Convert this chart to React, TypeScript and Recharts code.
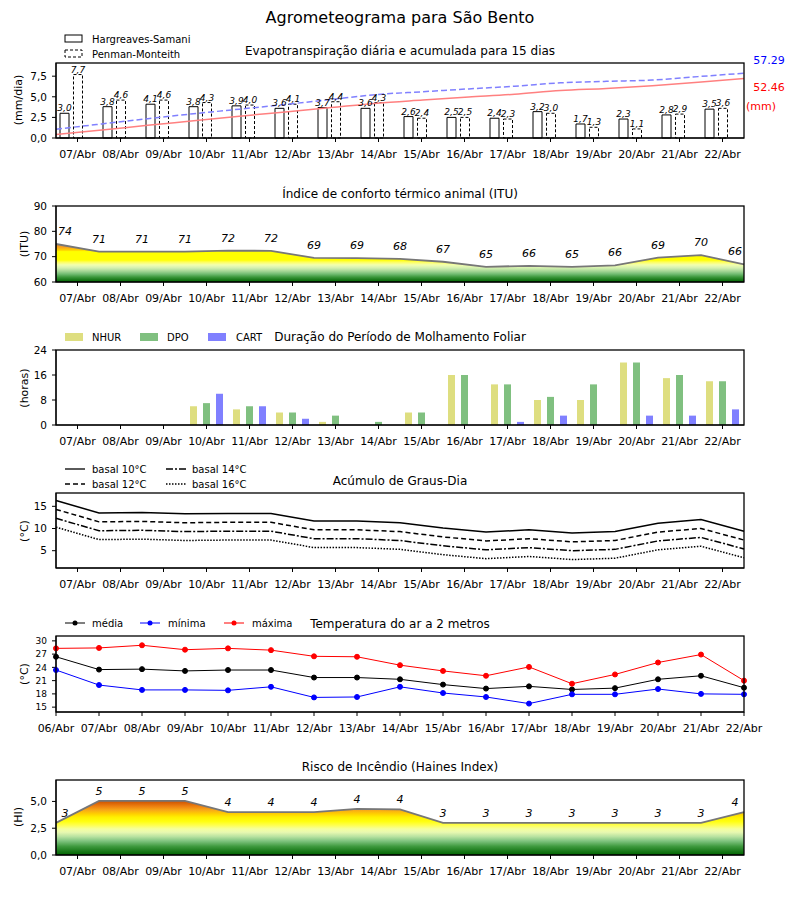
import React from 'react';
import { ComposedChart, Bar, Line, Area, XAxis, YAxis, LabelList } from 'recharts';

const dates16 = ['07/Abr', '08/Abr', '09/Abr', '10/Abr', '11/Abr', '12/Abr', '13/Abr', '14/Abr', '15/Abr', '16/Abr', '17/Abr', '18/Abr', '19/Abr', '20/Abr', '21/Abr', '22/Abr'];
const dates17 = ['06/Abr', ...dates16];

// Panel 1: evapotranspiração
const etHS = [3.0, 3.8, 4.1, 3.8, 3.9, 3.6, 3.7, 3.6, 2.6, 2.5, 2.4, 3.2, 1.7, 2.3, 2.8, 3.5];
const etPM = [7.7, 4.6, 4.6, 4.3, 4.0, 4.1, 4.4, 4.3, 2.4, 2.5, 2.3, 3.0, 1.3, 1.1, 2.9, 3.6];
const accPM = [7.7, 12.3, 16.9, 21.2, 25.2, 29.3, 33.7, 38.0, 40.4, 42.9, 45.2, 48.2, 49.5, 50.6, 53.6, 56.6];
const accHS = [3.0, 6.9, 11.1, 15.0, 19.0, 22.8, 26.6, 30.4, 33.1, 35.7, 38.2, 41.5, 43.3, 45.7, 48.7, 52.0];

// Panel 2: ITU
const ituLine = [75.0, 72.0, 72.0, 72.0, 72.4, 72.3, 69.5, 69.4, 69.1, 68.0, 66.0, 66.4, 66.0, 66.6, 69.6, 70.6, 67.0];
const ituLabel = [74, 71, 71, 71, 72, 72, 69, 69, 68, 67, 65, 66, 65, 66, 69, 70, 66];

// Panel 3: molhamento foliar
const nhur = [0, 0, 0, 6, 5, 4, 1, 0, 4, 16, 13, 8, 8, 20, 15, 14];
const dpo = [0, 0, 0, 7, 6, 4, 3, 1, 4, 16, 13, 9, 13, 20, 16, 14];
const cart = [0, 0, 0, 10, 6, 2, 0, 0, 0, 0, 1, 3, 0, 3, 3, 5];

// Panel 4: graus-dia
const gd10 = [16.3, 13.5, 13.6, 13.3, 13.4, 13.4, 11.7, 11.7, 11.3, 10.1, 9.2, 9.7, 9.0, 9.3, 11.2, 12.0, 9.4];
const gd12 = [14.3, 11.5, 11.6, 11.3, 11.4, 11.4, 9.7, 9.7, 9.3, 8.1, 7.2, 7.7, 7.0, 7.3, 9.2, 10.0, 7.4];
const gd14 = [12.3, 9.5, 9.6, 9.3, 9.4, 9.4, 7.7, 7.7, 7.3, 6.1, 5.2, 5.7, 5.0, 5.3, 7.2, 8.0, 5.4];
const gd16 = [10.3, 7.5, 7.6, 7.3, 7.4, 7.4, 5.7, 5.7, 5.3, 4.1, 3.2, 3.7, 3.0, 3.3, 5.2, 6.0, 3.4];

// Panel 5: temperatura
const tMed = [26.4, 23.5, 23.6, 23.2, 23.4, 23.4, 21.7, 21.7, 21.3, 20.1, 19.2, 19.7, 19.0, 19.3, 21.3, 22.1, 19.4];
const tMin = [23.4, 20.0, 18.9, 18.9, 18.8, 19.6, 17.2, 17.3, 19.6, 18.2, 17.3, 15.8, 17.9, 17.9, 19.1, 18.0, 17.9];
const tMax = [28.3, 28.4, 29.0, 28.0, 28.3, 27.9, 26.5, 26.4, 24.5, 23.2, 22.1, 24.1, 20.3, 22.4, 25.1, 26.9, 21.0];

// Panel 6: Haines
const hainesLine = [3.0, 5.05, 5.05, 5.05, 4.0, 4.0, 4.0, 4.3, 4.25, 3.0, 3.0, 3.0, 3.0, 3.0, 3.0, 3.0, 4.0];
const hainesLabel = [3, 5, 5, 5, 4, 4, 4, 4, 4, 3, 3, 3, 3, 3, 3, 3, 4];

const etData = dates16.map((d, i) => ({ d, i, hs: etHS[i], pm: etPM[i], z: 0, accPM: accPM[i], accHS: accHS[i] }));
const ituData = dates17.map((_, i) => ({ i, v: ituLine[i], lbl: ituLabel[i] }));
const molData = dates16.map((d, i) => ({ d, nhur: nhur[i], dpo: dpo[i], cart: cart[i] }));
const gdData = dates17.map((_, i) => ({ i, b10: gd10[i], b12: gd12[i], b14: gd14[i], b16: gd16[i] }));
const tData = dates17.map((_, i) => ({ i, med: tMed[i], min: tMin[i], max: tMax[i] }));
const hData = dates17.map((_, i) => ({ i, v: hainesLine[i], lbl: hainesLabel[i] }));

const midTicks = dates16.map((_, k) => k + 0.5);
const edgeTicks = dates17.map((_, k) => k);
const midFmt = (v: number) => dates16[Math.round(v - 0.5)] ?? '';
const edgeFmt = (v: number) => dates17[Math.round(v)] ?? '';
const comma1 = (v: any) => Number(v).toFixed(1).replace('.', ',');

const FONT = '"DejaVu Sans", sans-serif';
const W = 800;
const PANELS = [
  { top: 63, bot: 138 },
  { top: 206, bot: 282 },
  { top: 350, bot: 425 },
  { top: 493, bot: 568 },
  { top: 636, bot: 712 },
  { top: 780, bot: 855 },
];
const MARGIN = { top: 10, right: 56, bottom: 0, left: 0 };
const xTick = { fontSize: 11, fill: '#000', fontFamily: FONT };
const yTick = { fontSize: 10.5, fill: '#000', fontFamily: FONT };

function Box({ idx, children }: { idx: number; children: (h: number) => React.ReactNode }) {
  const p = PANELS[idx];
  const h = p.bot - p.top + 40;
  return (
    <div style={{ position: 'absolute', left: 0, top: p.top - 10, width: W, height: h }}>{children(h)}</div>
  );
}

const pointLabel = (labels: number[], off: number) => (props: any) => {
  const x = props.x ?? props.viewBox?.x;
  const y = props.y ?? props.viewBox?.y;
  const index = props.index;
  if (x == null || y == null) return null;
  const n = labels.length;
  const dx = index === 0 ? 9 : index === n - 1 ? -9 : 0;
  return (
    <text x={x + dx} y={y - off} textAnchor="middle" fontSize={11} fontStyle="italic" fill="#000" fontFamily={FONT}>
      {labels[index]}
    </text>
  );
};

function HeatGradients() {
  return (
    <defs>
      <linearGradient id="ituGrad" x1="0" y1="1" x2="0" y2="0">
        <stop offset="0" stopColor="#006400" />
        <stop offset="0.06" stopColor="#1a7a1a" />
        <stop offset="0.13" stopColor="#3c983c" />
        <stop offset="0.21" stopColor="#72bc72" />
        <stop offset="0.29" stopColor="#a8d898" />
        <stop offset="0.37" stopColor="#d4f0b0" />
        <stop offset="0.45" stopColor="#f2ffb0" />
        <stop offset="0.52" stopColor="#ffff60" />
        <stop offset="0.58" stopColor="#ffff00" />
        <stop offset="0.80" stopColor="#ffff00" />
        <stop offset="0.84" stopColor="#ffd000" />
        <stop offset="0.92" stopColor="#f5a020" />
        <stop offset="1" stopColor="#ee8a20" />
      </linearGradient>
      <linearGradient id="hainesGrad" x1="0" y1="1" x2="0" y2="0">
        <stop offset="0" stopColor="#006400" />
        <stop offset="0.08" stopColor="#1e7d1e" />
        <stop offset="0.16" stopColor="#3f9a3f" />
        <stop offset="0.26" stopColor="#80c480" />
        <stop offset="0.34" stopColor="#b8e2a0" />
        <stop offset="0.42" stopColor="#e8f8b0" />
        <stop offset="0.48" stopColor="#f4ffa0" />
        <stop offset="0.55" stopColor="#ffff50" />
        <stop offset="0.62" stopColor="#ffff10" />
        <stop offset="0.70" stopColor="#fff000" />
        <stop offset="0.76" stopColor="#ffd000" />
        <stop offset="0.83" stopColor="#f8a818" />
        <stop offset="0.90" stopColor="#ee8010" />
        <stop offset="1" stopColor="#cc5000" />
      </linearGradient>
    </defs>
  );
}

function T({ x, y, children, size = 12, anchor = 'middle', color = '#000', rotate = false, style }: any) {
  return (
    <text
      x={x}
      y={y}
      fontSize={size}
      textAnchor={anchor}
      dominantBaseline="central"
      fill={color}
      fontFamily={FONT}
      transform={rotate ? `rotate(-90 ${x} ${y})` : undefined}
      style={style}
    >
      {children}
    </text>
  );
}

function Overlay() {
  return (
    <svg width={W} height={900} style={{ position: 'absolute', left: 0, top: 0, pointerEvents: 'none' }}>
      {PANELS.map((p, k) => (
        <rect key={k} x={56} y={p.top} width={688} height={p.bot - p.top} fill="none" stroke="#000" strokeWidth={1.3} />
      ))}
      <T x={400} y={17} size={16}>Agrometeograma para São Bento</T>

      {/* panel 1 */}
      <rect x={65} y={35} width={17} height={7} fill="#fff" stroke="#000" strokeWidth={1} />
      <T x={92} y={39} size={10} anchor="start">Hargreaves-Samani</T>
      <rect x={65} y={50} width={17} height={7} fill="#fff" stroke="#000" strokeWidth={1} strokeDasharray="3 2" />
      <T x={92} y={54} size={10} anchor="start">Penman-Monteith</T>
      <T x={400} y={51}>Evapotranspiração diária e acumulada para 15 dias</T>
      <T x={18} y={100} size={11} rotate>(mm/dia)</T>
      <T x={769} y={60} size={11} color="#0000ff">57.29</T>
      <T x={769} y={87} size={11} color="#ff0000">52.46</T>
      <T x={761} y={106} size={11} color="#ff0000">(mm)</T>

      {/* panel 2 */}
      <T x={400} y={194}>Índice de conforto térmico animal (ITU)</T>
      <T x={24} y={244} size={11} rotate>(ITU)</T>

      {/* panel 3 */}
      <rect x={65} y={333} width={18} height={8} fill="#dede80" />
      <T x={92} y={337} size={10} anchor="start">NHUR</T>
      <rect x={140} y={333} width={18} height={8} fill="#80c080" />
      <T x={167} y={337} size={10} anchor="start">DPO</T>
      <rect x={208} y={333} width={18} height={8} fill="#8080ff" />
      <T x={236} y={337} size={10} anchor="start">CART</T>
      <T x={400} y={337}>Duração do Período de Molhamento Foliar</T>
      <T x={24} y={388} size={11} rotate>(horas)</T>

      {/* panel 4 */}
      <line x1={65} y1={469} x2={85} y2={469} stroke="#000" strokeWidth={1.3} />
      <T x={92} y={469} size={10} anchor="start">basal 10°C</T>
      <line x1={65} y1={484} x2={85} y2={484} stroke="#000" strokeWidth={1.3} strokeDasharray="5 3" />
      <T x={92} y={484} size={10} anchor="start">basal 12°C</T>
      <line x1={166} y1={469} x2={186} y2={469} stroke="#000" strokeWidth={1.3} strokeDasharray="7 2 2 2" />
      <T x={192} y={469} size={10} anchor="start">basal 14°C</T>
      <line x1={166} y1={484} x2={186} y2={484} stroke="#000" strokeWidth={1.3} strokeDasharray="1.5 1.5" />
      <T x={192} y={484} size={10} anchor="start">basal 16°C</T>
      <T x={400} y={481}>Acúmulo de Graus-Dia</T>
      <T x={24} y={531} size={11} rotate>(°C)</T>

      {/* panel 5 */}
      <line x1={65} y1={623} x2={85} y2={623} stroke="#000" strokeWidth={1} />
      <circle cx={75} cy={623} r={2.5} fill="#000" />
      <T x={92} y={623} size={10} anchor="start">média</T>
      <line x1={140} y1={623} x2={160} y2={623} stroke="#0000ff" strokeWidth={1} />
      <circle cx={150} cy={623} r={2.5} fill="#0000ff" />
      <T x={168} y={623} size={10} anchor="start">mínima</T>
      <line x1={224} y1={623} x2={244} y2={623} stroke="#ff0000" strokeWidth={1} />
      <circle cx={234} cy={623} r={2.5} fill="#ff0000" />
      <T x={252} y={623} size={10} anchor="start">máxima</T>
      <T x={400} y={624}>Temperatura do ar a 2 metros</T>
      <T x={24} y={674} size={11} rotate>(°C)</T>

      {/* panel 6 */}
      <T x={400} y={767}>Risco de Incêndio (Haines Index)</T>
      <T x={18} y={817} size={11} rotate>(HI)</T>
    </svg>
  );
}

export default function App() {
  return (
    <div style={{ position: 'absolute', left: 0, top: 0, width: W, height: 900, background: '#fff', fontFamily: FONT }}>
      {/* Panel 1 */}
      <Box idx={0}>
        {(h) => (
          <ComposedChart width={W} height={h} data={etData} margin={MARGIN} barGap={4.5}>
            <XAxis xAxisId="cat" dataKey="d" type="category" interval={0} height={30} tickSize={4} tickMargin={8} tick={xTick} stroke="#000" />
            <XAxis xAxisId="num" dataKey="i" type="number" domain={[0, 15]} hide />
            <YAxis yAxisId="left" domain={[0, 9.1]} ticks={[0, 2.5, 5, 7.5]} interval={0} tickFormatter={comma1} width={56} tickSize={4} tickMargin={5} tick={yTick} stroke="#000" />
            <YAxis yAxisId="right" orientation="right" domain={[0, 65.5]} hide />
            <Bar xAxisId="cat" yAxisId="left" dataKey="hs" barSize={9} fill="#fff" stroke="#000" strokeWidth={1} isAnimationActive={false}>
              <LabelList dataKey="hs" position="top" offset={2} formatter={comma1} style={{ fontSize: 9, fontStyle: 'italic', fill: '#000', fontFamily: FONT }} />
            </Bar>
            <Bar xAxisId="cat" yAxisId="left" dataKey="pm" barSize={9} fill="#fff" stroke="#000" strokeWidth={1} strokeDasharray="3 2" isAnimationActive={false}>
              <LabelList dataKey="pm" position="top" offset={2} formatter={comma1} style={{ fontSize: 9, fontStyle: 'italic', fill: '#000', fontFamily: FONT }} />
            </Bar>
            <Bar xAxisId="cat" yAxisId="left" dataKey="z" barSize={9} fill="none" isAnimationActive={false} />
            <Line xAxisId="num" yAxisId="right" type="monotone" dataKey="accPM" stroke="#8080ff" strokeWidth={1.5} strokeDasharray="6 3" dot={false} isAnimationActive={false} />
            <Line xAxisId="num" yAxisId="right" type="monotone" dataKey="accHS" stroke="#ff8080" strokeWidth={1.5} dot={false} isAnimationActive={false} />
          </ComposedChart>
        )}
      </Box>

      {/* Panel 2 */}
      <Box idx={1}>
        {(h) => (
          <ComposedChart width={W} height={h} data={ituData} margin={MARGIN}>
            <HeatGradients />
            <XAxis dataKey="i" type="number" domain={[0, 16]} ticks={midTicks} tickFormatter={midFmt} interval={0} height={30} tickSize={4} tickMargin={8} tick={xTick} stroke="#000" />
            <YAxis domain={[60, 90]} ticks={[60, 70, 80, 90]} interval={0} width={56} tickSize={4} tickMargin={5} tick={yTick} stroke="#000" />
            <Area type="linear" dataKey="v" baseValue={60} fill="url(#ituGrad)" fillOpacity={1} stroke="#777" strokeWidth={1.8} isAnimationActive={false}>
              <LabelList dataKey="lbl" content={pointLabel(ituLabel, 9)} />
            </Area>
          </ComposedChart>
        )}
      </Box>

      {/* Panel 3 */}
      <Box idx={2}>
        {(h) => (
          <ComposedChart width={W} height={h} data={molData} margin={MARGIN} barGap={6}>
            <XAxis dataKey="d" type="category" interval={0} height={30} tickSize={4} tickMargin={8} tick={xTick} stroke="#000" />
            <YAxis domain={[0, 24]} ticks={[0, 8, 16, 24]} interval={0} width={56} tickSize={4} tickMargin={5} tick={yTick} stroke="#000" />
            <Bar dataKey="nhur" barSize={7} fill="#dede80" isAnimationActive={false} />
            <Bar dataKey="dpo" barSize={7} fill="#80c080" isAnimationActive={false} />
            <Bar dataKey="cart" barSize={7} fill="#8080ff" isAnimationActive={false} />
          </ComposedChart>
        )}
      </Box>

      {/* Panel 4 */}
      <Box idx={3}>
        {(h) => (
          <ComposedChart width={W} height={h} data={gdData} margin={MARGIN}>
            <XAxis dataKey="i" type="number" domain={[0, 16]} ticks={midTicks} tickFormatter={midFmt} interval={0} height={30} tickSize={4} tickMargin={8} tick={xTick} stroke="#000" />
            <YAxis domain={[1.1, 18]} ticks={[5, 10, 15]} interval={0} width={56} tickSize={4} tickMargin={5} tick={yTick} stroke="#000" />
            <Line type="linear" dataKey="b10" stroke="#000" strokeWidth={1.5} dot={false} isAnimationActive={false} />
            <Line type="linear" dataKey="b12" stroke="#000" strokeWidth={1.5} strokeDasharray="5 3" dot={false} isAnimationActive={false} />
            <Line type="linear" dataKey="b14" stroke="#000" strokeWidth={1.5} strokeDasharray="7 2 2 2" dot={false} isAnimationActive={false} />
            <Line type="linear" dataKey="b16" stroke="#000" strokeWidth={1.5} strokeDasharray="1.5 1.5" dot={false} isAnimationActive={false} />
          </ComposedChart>
        )}
      </Box>

      {/* Panel 5 */}
      <Box idx={4}>
        {(h) => (
          <ComposedChart width={W} height={h} data={tData} margin={MARGIN}>
            <XAxis dataKey="i" type="number" domain={[0, 16]} ticks={edgeTicks} tickFormatter={edgeFmt} interval={0} height={30} tickSize={4} tickMargin={8} tick={xTick} stroke="#000" />
            <YAxis domain={[13.9, 31.1]} ticks={[15, 18, 21, 24, 27, 30]} interval={0} width={56} tickSize={4} tickMargin={5} tick={{ ...yTick, fontSize: 9 }} stroke="#000" />
            <Line type="linear" dataKey="med" stroke="#000" strokeWidth={1} dot={{ r: 2.5, fill: '#000', stroke: '#000' }} isAnimationActive={false} />
            <Line type="linear" dataKey="min" stroke="#0000ff" strokeWidth={1} dot={{ r: 2.5, fill: '#0000ff', stroke: '#0000ff' }} isAnimationActive={false} />
            <Line type="linear" dataKey="max" stroke="#ff0000" strokeWidth={1} dot={{ r: 2.5, fill: '#ff0000', stroke: '#ff0000' }} isAnimationActive={false} />
          </ComposedChart>
        )}
      </Box>

      {/* Panel 6 */}
      <Box idx={5}>
        {(h) => (
          <ComposedChart width={W} height={h} data={hData} margin={MARGIN}>
            <HeatGradients />
            <XAxis dataKey="i" type="number" domain={[0, 16]} ticks={midTicks} tickFormatter={midFmt} interval={0} height={30} tickSize={4} tickMargin={8} tick={xTick} stroke="#000" />
            <YAxis domain={[0, 7]} ticks={[0, 2.5, 5]} interval={0} tickFormatter={comma1} width={56} tickSize={4} tickMargin={5} tick={yTick} stroke="#000" />
            <Area type="linear" dataKey="v" baseValue={0} fill="url(#hainesGrad)" fillOpacity={1} stroke="#777" strokeWidth={1.8} isAnimationActive={false}>
              <LabelList dataKey="lbl" content={pointLabel(hainesLabel, 6)} />
            </Area>
          </ComposedChart>
        )}
      </Box>

      <Overlay />
    </div>
  );
}
